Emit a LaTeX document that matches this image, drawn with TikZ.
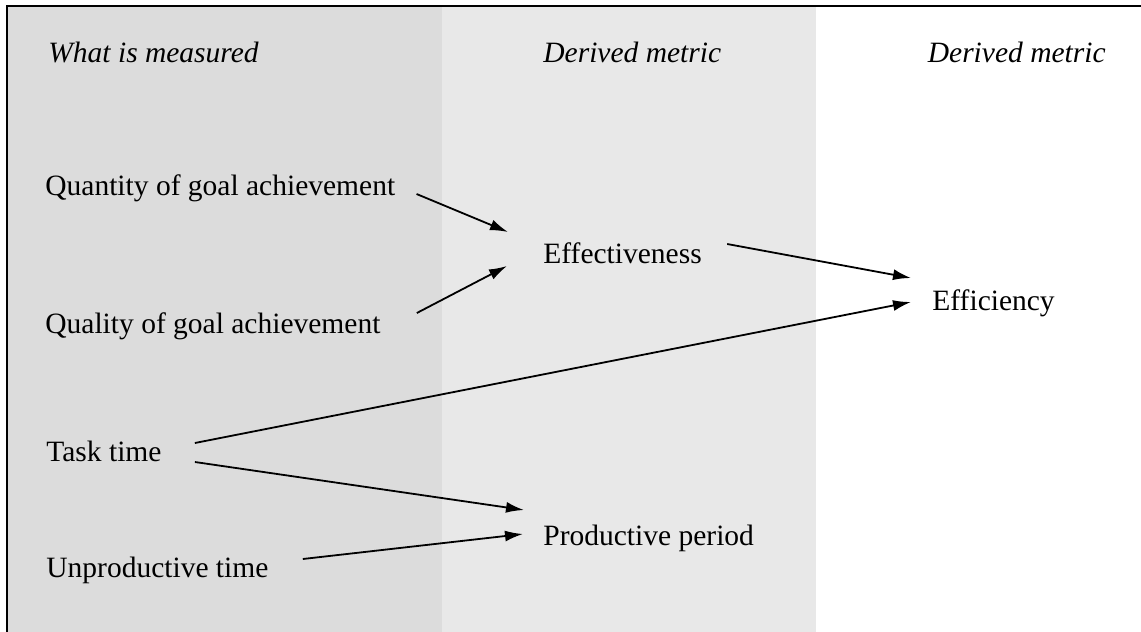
\documentclass[tikz,border=0pt]{standalone}
\usepackage{fontspec}
\setmainfont{Liberation Serif}
\usepackage{tikz}
\usetikzlibrary{arrows.meta,positioning}
\definecolor{measuredbg}{RGB}{220,220,220}
\definecolor{derivedbg}{RGB}{232,232,232}
\tikzset{
  metric-item/.style={anchor=base west, inner sep=0pt, font=\fontsize{14.75}{17}\selectfont},
  metric-head/.style={metric-item, font=\fontsize{14.75}{17}\selectfont\itshape},
  metric-link/.style={-{Latex[length=9pt,width=5.5pt]}, line width=0.9pt}
}

\begin{document}
\begin{tikzpicture}[x=0.5pt, y=-0.5pt]
  \useasboundingbox (0,0) rectangle (1141,632);

  % Column backgrounds
  \fill[measuredbg] (7,6) rectangle (442,640);
  \fill[derivedbg] (442,6) rectangle (816,640);

  % Frame (top and left edges only)
  \draw[line width=1pt] (7,640) -- (7,6) -- (1150,6);

  % Column headings
  \node[metric-head] (head1) at (48,62) {What is measured};
  \node[metric-head] (head2) at (543,62) {Derived metric};
  \node[metric-head, anchor=base east] (head3) at (1106,62) {Derived metric};

  % What is measured
  \node[metric-item] (quant) at (45,195) {Quantity of goal achievement};
  \node[metric-item] (qual) at (45,333) {Quality of goal achievement};
  \node[metric-item] (task) at (46,461) {Task time};
  \node[metric-item] (unprod) at (46,577) {Unproductive time};

  % Derived metrics
  \node[metric-item] (effect) at (543,263) {Effectiveness};
  \node[metric-item] (prod) at (543,545) {Productive period};
  \node[metric-item] (effic) at (932,310) {Efficiency};

  % Connectors
  \draw[metric-link] ([shift={(21,-1)}]quant.base east) -- ([shift={(-35,-31)}]effect.base west);
  \draw[metric-link] ([shift={(36,-20)}]qual.base east) -- ([shift={(-36,3)}]effect.base west);
  \draw[metric-link] ([shift={(25,-19)}]effect.base east) -- ([shift={(-21,-32)}]effic.base west);
  \draw[metric-link] ([shift={(33,-18)}]task.base east) -- ([shift={(-21,-8)}]effic.base west);
  \draw[metric-link] ([shift={(33,1)}]task.base east) -- ([shift={(-19,-35)}]prod.base west);
  \draw[metric-link] ([shift={(34,-18)}]unprod.base east) -- ([shift={(-20,-11)}]prod.base west);
\end{tikzpicture}
\end{document}
